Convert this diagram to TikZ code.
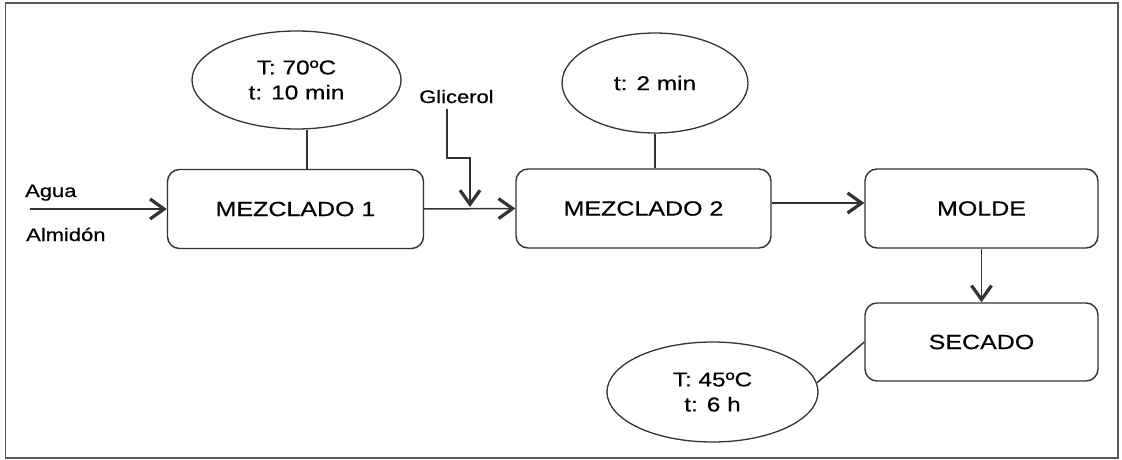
\documentclass[tikz,border=0pt]{standalone}
\usepackage{fontspec}
\setmainfont[FakeStretch=1.22, FakeBold=0.5]{Liberation Sans}
\usetikzlibrary{arrows.meta,shapes.geometric}

\tikzset{
  stage/.style={draw=black!80, line width=1.4pt, rounded corners=12pt,
    inner sep=0pt, font=\fontsize{20.5}{24}\selectfont},
  cond/.style={ellipse, draw=black!80, line width=1.3pt, inner sep=0pt,
    align=center, font=\fontsize{20}{25}\selectfont},
  inlabel/.style={inner sep=0pt, font=\fontsize{18}{22}\selectfont},
  link/.style={draw=black!80, line width=1.5pt},
  flow/.style={link, -{Straight Barb[length=14pt, width=20pt, line width=3.2pt]}},
}

\begin{document}
\begin{tikzpicture}[x=1pt, y=-1pt]
  \useasboundingbox (0,0) rectangle (1122,460);

  % outer frame
  \node[draw=black!65, line width=1.6pt, minimum width=1112.5pt, minimum height=455pt,
        inner sep=0pt] (frame) at (561.75,230.5) {};

  % process stages
  \node[stage, minimum width=256pt, minimum height=79pt] (m1) at (295.5,209) {MEZCLADO 1};
  \node[stage, minimum width=255pt, minimum height=79pt] (m2) at (643.5,208.5) {MEZCLADO 2};
  \node[stage, minimum width=233pt, minimum height=79pt] (molde) at (981.5,208.5) {MOLDE};
  \node[stage, minimum width=233pt, minimum height=78pt] (secado) at (981.5,342) {SECADO};

  % operating conditions
  \node[cond, minimum width=209pt, minimum height=98pt] (c1) at (296.5,80) {T: 70ºC\\t: 10 min};
  \node[cond, minimum width=186pt, minimum height=100pt] (c2) at (655,83) {t: 2 min};
  \node[cond, minimum width=211pt, minimum height=100pt] (c3) at (712.5,392) {T: 45ºC\\t: 6 h};

  % inputs
  \node[inlabel, anchor=base west] (agua) at (25,197) {Agua};
  \node[inlabel, anchor=base west] (almidon) at (26,241) {Almidón};
  \node[inlabel, anchor=base west] (glicerol) at (419,103) {Glicerol};
  \coordinate (feed) at (30,209);
  \coordinate (gtop) at (447,109);
  \coordinate (gjoin) at (470,207);

  % condition links
  \draw[link] ([xshift=10.5pt]c1.south) -- ([xshift=10.5pt]c1.south |- m1.north);
  \draw[link] (c2.south) -- (c2.south |- m2.north);
  \draw[link] (c3.5) -- (secado.west);

  % material flow
  \draw[flow] (feed) -- (m1.west);
  \draw[flow] (m1.east) -- (m2.west);
  \draw[flow] (gtop) -- ++(0,49) -| (gjoin);
  \draw[flow] ([yshift=5.5pt]m2.east) -- ([yshift=5.5pt]molde.west);
  \draw[flow] (molde.south) -- (secado.north);
\end{tikzpicture}
\end{document}
